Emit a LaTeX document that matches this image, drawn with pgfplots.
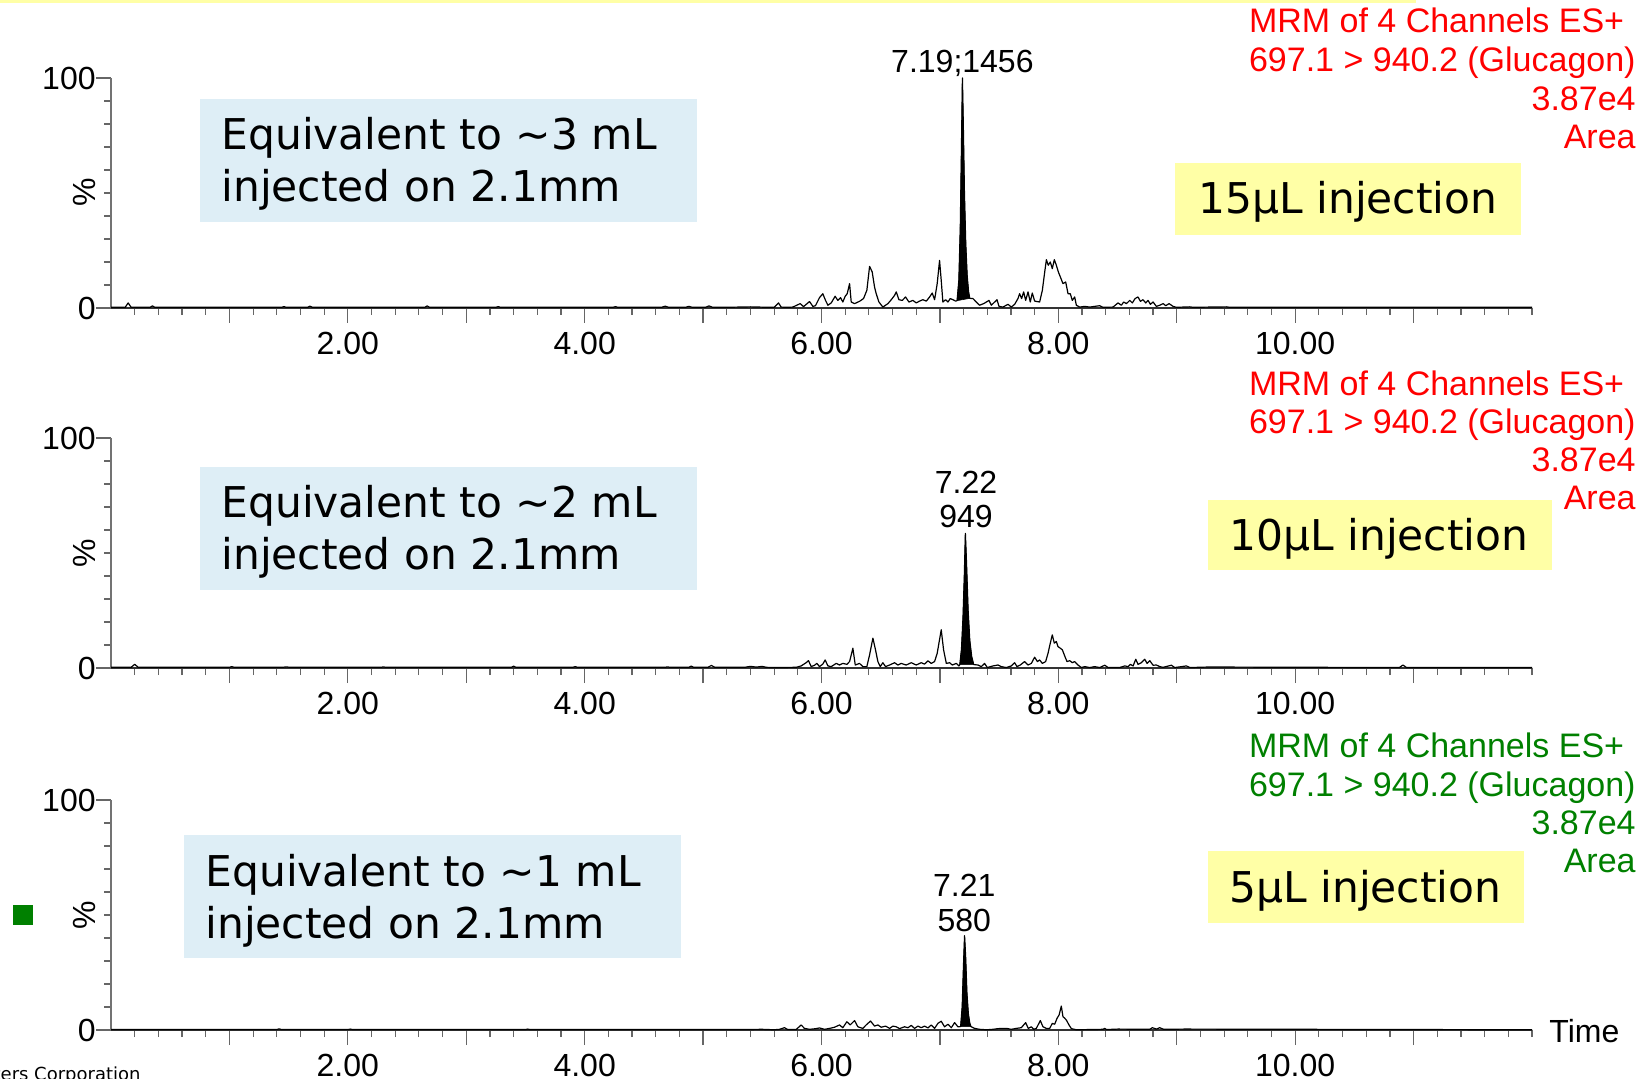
\documentclass[border=0pt]{standalone}
\usepackage{pgfplots}
\pgfplotsset{compat=1.18}
\usepackage{fontspec}
\setmainfont{Liberation Sans}
\newfontfamily\dejavu{DejaVu Sans}
\definecolor{boxblue}{RGB}{222,238,246}
\definecolor{boxyellow}{RGB}{255,255,166}
\definecolor{mrmgreen}{RGB}{0,128,0}
\newcommand\tickfont{\fontsize{16}{17}\selectfont}
\newcommand\infofont{\fontsize{17}{19}\selectfont}
\newcommand\boxfont{\dejavu\fontsize{21.2}{25}\selectfont}

\pgfplotsset{
  chrom/.style={
    scale only axis, width=710.5pt, height=115pt, anchor=south west,
    xmin=0, xmax=12, ymin=0, ymax=100, clip=false,
    axis x line*=bottom, axis y line*=left,
    x axis line style={black!80, line width=1pt, -},
    y axis line style={black!55, line width=0.7pt, -},
    tick align=outside,
    major tick length=7.5pt, minor tick length=3.5pt,
    tick style={black!60, line width=0.6pt},
    xtick={1,...,11},
    xticklabels={,2.00,,4.00,,6.00,,8.00,,10.00,},
    minor xtick={0.2,0.4,...,11.9},
    ytick={0,100}, yticklabels={0,100},
    minor ytick={10,20,...,90},
    ticklabel style={font=\tickfont},
    xticklabel style={inner sep=0pt, anchor=north, yshift=-4.3pt},
    yticklabel style={inner sep=0pt, anchor=east},
  },
  trace/.style={black, line width=0.6pt, line join=round},
  peak/.style={fill=black, draw=black, line width=0.3pt},
}

\begin{document}
\begin{tikzpicture}
\path[use as bounding box] (0,0) rectangle (821.5pt,-539.5pt);

% ---------- 15 uL ----------
\begin{axis}[chrom, at={(55.5pt,-154pt)}]
\addplot[trace] coordinates {
 (0,0.3) (0.12,0.3) (0.145,2.2) (0.17,0.3) (0.33,0.3) (0.35,0.9) (0.37,0.3)
 (1.44,0.3) (1.46,0.6) (1.48,0.3) (1.66,0.3) (1.68,0.8) (1.70,0.3)
 (2.65,0.3) (2.67,0.9) (2.69,0.3) (3.25,0.3) (3.27,0.6) (3.29,0.3)
 (4.24,0.3) (4.26,0.6) (4.28,0.3) (4.65,0.3) (4.68,0.8) (4.71,0.3)
 (4.85,0.3) (4.88,0.7) (4.91,0.3) (5.02,0.3) (5.05,0.9) (5.08,0.3)
 (5.20,0.3) (5.40,0.5) (5.55,0.3)
 (5.600,0.3) (5.637,2.2) (5.659,0.4) (5.701,0.3) (5.758,0.4) (5.820,1.9)
 (5.848,0.6) (5.899,2.8) (5.927,0.7) (5.949,1.0) (5.983,4.5) (6.011,6.2)
 (6.034,3.3) (6.054,1.2) (6.082,2.2) (6.115,5.1) (6.138,3.3) (6.161,4.5)
 (6.180,2.6) (6.200,5.1) (6.217,6.2) (6.237,10.6) (6.251,2.6) (6.279,1.9)
 (6.321,2.9) (6.355,4.1) (6.383,7.7) (6.406,18.1) (6.428,15.7) (6.448,9.1)
 (6.462,6.2) (6.485,2.6) (6.518,0.4) (6.561,1.9) (6.597,4.1) (6.617,5.5)
 (6.631,7.0) (6.654,3.6) (6.682,3.3) (6.710,4.8) (6.738,2.6) (6.772,3.3)
 (6.800,2.2) (6.828,3.0) (6.856,3.6) (6.885,3.0) (6.913,4.8) (6.935,6.5)
 (6.955,3.6) (6.977,10.6) (6.997,20.7) (7.011,12.0) (7.025,2.6) (7.048,3.6)
 (7.068,2.6) (7.087,4.1) (7.110,3.6) (7.132,3.0)
 (7.145,3.2) (7.160,12) (7.172,35) (7.182,70) (7.190,100) (7.198,78)
 (7.207,50) (7.218,28) (7.230,14) (7.242,7) (7.252,4.2)
 (7.279,4.1) (7.307,2.6) (7.335,1.2) (7.369,1.9) (7.392,2.6) (7.414,3.3)
 (7.434,1.2) (7.462,2.6) (7.482,3.6) (7.499,0.7) (7.532,0.4) (7.575,1.6)
 (7.603,0.4) (7.631,1.6) (7.659,4.1) (7.673,6.2) (7.690,4.1) (7.707,7.0)
 (7.724,3.3) (7.744,7.0) (7.763,2.6) (7.780,6.5) (7.800,3.0) (7.842,2.6)
 (7.865,7.7) (7.885,15.7) (7.899,21.0) (7.915,18.6) (7.932,20.0) (7.949,17.1)
 (7.966,21.0) (7.983,18.6) (8.000,15.7) (8.017,13.5) (8.039,10.6) (8.062,11.3)
 (8.082,6.2) (8.101,6.2) (8.118,3.3) (8.138,4.8) (8.152,1.2) (8.180,0.4)
 (8.223,0.7) (8.265,0.4) (8.349,1.0) (8.377,0.3) (8.462,0.4) (8.504,2.2)
 (8.532,1.2) (8.552,2.6) (8.575,1.9) (8.603,3.3) (8.625,2.2) (8.648,4.1)
 (8.673,4.8) (8.693,2.9) (8.715,3.6) (8.738,2.2) (8.758,3.3) (8.777,1.6)
 (8.800,2.6) (8.828,0.7) (8.856,1.2) (8.885,1.9) (8.907,1.0) (8.935,1.9)
 (8.969,0.7) (8.997,0.3) (9.110,0.5) (9.138,0.3) (9.420,0.5) (9.448,0.3)
 (12,0.3)
};
\addplot[peak] coordinates {
 (7.145,3.2) (7.160,12) (7.172,35) (7.182,70) (7.190,100) (7.198,78)
 (7.207,50) (7.218,28) (7.230,14) (7.242,7) (7.252,4.2)
} -- cycle;
\node[font=\tickfont, anchor=base, inner sep=0pt, yshift=2.75pt] at (axis cs:7.19,100) {7.19;1456};
\end{axis}

% ---------- 10 uL ----------
\begin{axis}[chrom, at={(55.5pt,-334pt)}]
\addplot[trace] coordinates {
 (0,0.3) (0.17,0.3) (0.20,1.6) (0.23,0.3) (1.00,0.3) (1.02,0.6) (1.04,0.3)
 (1.45,0.3) (1.48,0.5) (1.51,0.3) (2.28,0.3) (2.30,0.5) (2.32,0.3)
 (3.38,0.3) (3.40,0.8) (3.42,0.3) (3.90,0.3) (3.92,0.6) (3.94,0.3)
 (4.68,0.3) (4.70,0.5) (4.72,0.3) (4.88,0.3) (4.90,0.8) (4.92,0.3)
 (5.04,0.3) (5.07,1.1) (5.10,0.3) (5.35,0.3) (5.40,0.7) (5.45,0.4) (5.50,0.7)
 (5.532,0.3) (5.600,0.2) (5.786,0.3) (5.828,0.9) (5.870,2.3) (5.890,3.2)
 (5.913,0.6) (5.941,1.2) (5.961,2.0) (5.983,0.6) (6.011,1.7) (6.031,3.5)
 (6.054,0.9) (6.082,0.6) (6.124,2.0) (6.152,1.3) (6.180,2.0) (6.214,1.6)
 (6.237,2.8) (6.265,8.6) (6.285,1.3) (6.321,2.0) (6.349,0.6) (6.383,0.6)
 (6.406,5.7) (6.434,13.0) (6.456,7.9) (6.476,2.8) (6.496,0.6) (6.518,2.3)
 (6.541,0.6) (6.575,1.3) (6.617,2.3) (6.645,1.3) (6.673,2.0) (6.715,1.3)
 (6.758,2.3) (6.800,1.3) (6.842,2.3) (6.870,1.7) (6.899,3.1) (6.927,2.0)
 (6.955,2.8) (6.977,6.4) (7.011,16.6) (7.031,7.9) (7.054,2.0) (7.082,2.3)
 (7.104,1.3) (7.138,2.0) (7.161,0.9)
 (7.168,1.5) (7.182,8) (7.195,22) (7.206,40) (7.215,58.5) (7.225,45)
 (7.238,25) (7.252,12) (7.268,5) (7.285,1.5)
 (7.321,1.3) (7.349,0.6) (7.377,2.0) (7.400,0.2) (7.448,0.9) (7.490,1.3)
 (7.518,0.6) (7.561,0.2) (7.603,0.9) (7.631,2.3) (7.651,0.6) (7.679,1.3)
 (7.715,2.8) (7.744,1.3) (7.772,2.0) (7.800,4.7) (7.823,2.8) (7.842,3.5)
 (7.865,2.0) (7.893,2.8) (7.913,6.4) (7.932,10.8) (7.949,14.4) (7.966,10.8)
 (7.983,11.5) (7.997,9.3) (8.017,8.6) (8.034,7.9) (8.054,5.2) (8.073,2.8)
 (8.096,3.2) (8.118,2.3) (8.138,2.8) (8.166,1.3) (8.194,0.2) (8.223,0.6)
 (8.265,0.2) (8.307,0.6) (8.349,0.2) (8.392,1.2) (8.420,0.2) (8.518,0.2)
 (8.561,0.9) (8.589,0.6) (8.608,1.6) (8.631,0.9) (8.654,3.8) (8.673,1.6)
 (8.701,2.3) (8.730,3.8) (8.749,2.0) (8.772,3.2) (8.800,1.2) (8.828,1.3)
 (8.856,0.6) (8.885,0.3) (8.955,1.2) (8.983,0.2) (9.082,0.9) (9.110,0.2)
 (9.251,0.4) (9.434,0.4) (10.88,0.2) (10.91,1.3) (10.94,0.2) (12,0.2)
};
\addplot[peak] coordinates {
 (7.168,1.5) (7.182,8) (7.195,22) (7.206,40) (7.215,58.5) (7.225,45)
 (7.238,25) (7.252,12) (7.268,5) (7.285,1.5)
} -- cycle;
\node[font=\tickfont, anchor=base, inner sep=0pt, yshift=2.75pt] at (axis cs:7.22,58.5) {949};
\node[font=\tickfont, anchor=base, inner sep=0pt, yshift=19.75pt] at (axis cs:7.22,58.5) {7.22};
\end{axis}

% ---------- 5 uL ----------
\begin{axis}[chrom, at={(55.5pt,-515pt)}]
\addplot[trace] coordinates {
 (0,0.2) (1.40,0.2) (1.42,0.5) (1.44,0.2) (2.00,0.2) (2.02,0.4) (2.04,0.2)
 (3.50,0.2) (3.52,0.4) (3.54,0.2) (5.30,0.2) (5.50,0.3)
 (5.600,0.1) (5.645,0.3) (5.687,1.0) (5.715,0.2) (5.786,0.2) (5.828,2.2)
 (5.856,0.7) (5.899,0.3) (5.955,0.6) (5.983,0.9) (6.025,0.3) (6.068,0.7)
 (6.110,1.2) (6.152,2.2) (6.180,1.0) (6.214,3.6) (6.242,2.2) (6.279,4.1)
 (6.307,1.4) (6.349,0.7) (6.377,2.2) (6.414,3.9) (6.448,1.7) (6.476,2.2)
 (6.504,1.2) (6.541,1.7) (6.575,0.7) (6.603,1.7) (6.631,1.4) (6.659,0.6)
 (6.701,1.4) (6.730,1.0) (6.758,2.0) (6.786,0.7) (6.814,1.7) (6.842,1.0)
 (6.870,1.7) (6.899,0.9) (6.927,2.2) (6.955,0.7) (6.983,2.9) (7.011,3.8)
 (7.039,1.4) (7.068,2.5) (7.096,1.0) (7.124,3.2) (7.152,1.4)
 (7.175,1.5) (7.188,10) (7.199,28) (7.208,41) (7.217,32) (7.228,16)
 (7.240,7) (7.252,3) (7.262,1.5)
 (7.293,0.7) (7.335,0.3) (7.392,0.1) (7.448,0.3) (7.490,0.6) (7.561,0.7)
 (7.603,0.3) (7.645,0.7) (7.687,1.0) (7.724,3.2) (7.746,0.7) (7.772,1.4)
 (7.792,0.3) (7.814,0.7) (7.848,4.1) (7.870,1.4) (7.899,0.7) (7.927,0.7)
 (7.949,2.9) (7.969,2.5) (7.989,5.1) (8.006,6.5) (8.025,10.4) (8.039,5.8)
 (8.054,5.1) (8.068,4.3) (8.090,2.2) (8.110,0.6) (8.152,0.1) (8.377,0.3)
 (8.392,0.7) (8.406,0.2) (8.504,0.4) (8.772,0.3) (8.794,1.0) (8.828,0.4)
 (8.856,1.0) (8.890,0.3) (9.068,0.4) (12,0.1)
};
\addplot[peak] coordinates {
 (7.175,1.5) (7.188,10) (7.199,28) (7.208,41) (7.217,32) (7.228,16)
 (7.240,7) (7.252,3) (7.262,1.5)
} -- cycle;
\node[font=\tickfont, anchor=base, inner sep=0pt, yshift=2.1pt] at (axis cs:7.205,41) {580};
\node[font=\tickfont, anchor=base, inner sep=0pt, yshift=19.6pt] at (axis cs:7.205,41) {7.21};
\end{axis}

% ---------- annotations (pixel units, y down) ----------
\begin{scope}[x=0.5pt, y=-0.5pt]
\fill[boxyellow] (0,0) rectangle (1416,3.5);
% blue boxes
\fill[boxblue] (200,99.5) rectangle (697,222);
\fill[boxblue] (200,467) rectangle (697,590);
\fill[boxblue] (184,835) rectangle (681,958);
\node[font=\boxfont, anchor=base west, inner sep=0pt] at (221,150) {Equivalent to \textasciitilde 3 mL};
\node[font=\boxfont, anchor=base west, inner sep=0pt] at (221,201.5) {injected on 2.1mm};
\node[font=\boxfont, anchor=base west, inner sep=0pt] at (221,517.5) {Equivalent to \textasciitilde 2 mL};
\node[font=\boxfont, anchor=base west, inner sep=0pt] at (221,569) {injected on 2.1mm};
\node[font=\boxfont, anchor=base west, inner sep=0pt] at (205,886.5) {Equivalent to \textasciitilde 1 mL};
\node[font=\boxfont, anchor=base west, inner sep=0pt] at (205,938) {injected on 2.1mm};
% yellow boxes
\fill[boxyellow] (1175,163) rectangle (1521,235);
\fill[boxyellow] (1208,500) rectangle (1552,570);
\fill[boxyellow] (1208,851) rectangle (1524,923);
\node[font=\boxfont, anchor=base west, inner sep=0pt] at (1198,214) {15µL injection};
\node[font=\boxfont, anchor=base west, inner sep=0pt] at (1229,551) {10µL injection};
\node[font=\boxfont, anchor=base west, inner sep=0pt] at (1229,902) {5µL injection};
% channel info
\begin{scope}[every node/.style={font=\infofont, anchor=base east, inner sep=0pt}]
\node[red] at (1624.5,33) {MRM of 4 Channels ES+};
\node[red] at (1636,72) {697.1 > 940.2 (Glucagon)};
\node[red] at (1636,111) {3.87e4};
\node[red] at (1636,149) {Area};
\node[red] at (1624.5,395.5) {MRM of 4 Channels ES+};
\node[red] at (1636,434) {697.1 > 940.2 (Glucagon)};
\node[red] at (1636,472) {3.87e4};
\node[red] at (1636,510) {Area};
\node[mrmgreen] at (1624.5,757) {MRM of 4 Channels ES+};
\node[mrmgreen] at (1636,796) {697.1 > 940.2 (Glucagon)};
\node[mrmgreen] at (1636,834.5) {3.87e4};
\node[mrmgreen] at (1636,872) {Area};
\end{scope}
% axis titles
\node[font=\tickfont, rotate=90, inner sep=0pt] at (84,192) {\%};
\node[font=\tickfont, rotate=90, inner sep=0pt] at (84,553) {\%};
\node[font=\tickfont, rotate=90, inner sep=0pt] at (84,915) {\%};
\node[font=\tickfont, anchor=base west, inner sep=0pt] at (1549,1042) {Time};
% corner marks
\fill[mrmgreen] (13,905) rectangle (33,925);
\node[font=\dejavu\fontsize{9}{10}\selectfont, anchor=base east, inner sep=0pt] at (141,1080) {\textcopyright 2013 Waters Corporation};
\end{scope}
\end{tikzpicture}
\end{document}
